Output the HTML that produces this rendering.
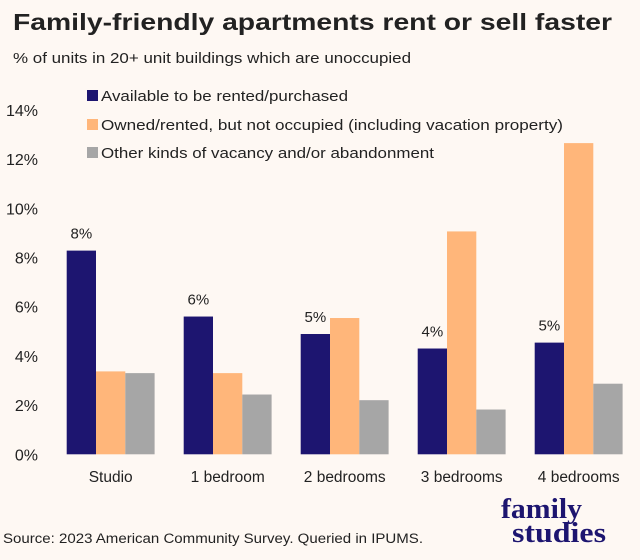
<!DOCTYPE html>
<html><head><meta charset="utf-8"><style>
html,body{margin:0;padding:0;background:#fef8f3;}
svg{display:block;font-family:"Liberation Sans",sans-serif;}
</style></head><body>
<svg width="640" height="560" viewBox="0 0 640 560">
<rect width="640" height="560" fill="#fef8f3"/>
<text x="13" y="30" font-size="23" font-weight="bold" fill="#222" textLength="599" lengthAdjust="spacingAndGlyphs">Family-friendly apartments rent or sell faster</text>
<text x="13" y="63" font-size="15" fill="#222" textLength="398" lengthAdjust="spacingAndGlyphs">% of units in 20+ unit buildings which are unoccupied</text>
<g id="yaxis"></g>
<g id="bars"></g>
<g id="xaxis"></g>
<g>
<rect x="87" y="90" width="11" height="11" fill="#1d1570"/>
<text x="101" y="101" font-size="15" fill="#222" textLength="247" lengthAdjust="spacingAndGlyphs">Available to be rented/purchased</text>
<rect x="87" y="119" width="11" height="11" fill="#ffb67a"/>
<text x="101" y="130" font-size="15" fill="#222" textLength="462" lengthAdjust="spacingAndGlyphs">Owned/rented, but not occupied (including vacation property)</text>
<rect x="87" y="147" width="11" height="11" fill="#a6a6a6"/>
<text x="101" y="158" font-size="15" fill="#222" textLength="333" lengthAdjust="spacingAndGlyphs">Other kinds of vacancy and/or abandonment</text>
</g>
<text x="3" y="543" font-size="13.5" fill="#222" textLength="420" lengthAdjust="spacingAndGlyphs">Source: 2023 American Community Survey. Queried in IPUMS.</text>
<g font-family="'Liberation Serif',serif" font-weight="bold" fill="#1d1570">
<text x="501" y="518" font-size="28" textLength="81" lengthAdjust="spacingAndGlyphs">family</text>
<text x="512" y="542" font-size="28" textLength="94" lengthAdjust="spacingAndGlyphs">studies</text>
</g>
</svg>
<script>
const categories = ["Studio","1 bedroom","2 bedrooms","3 bedrooms","4 bedrooms"];
const availableValues = [8.28, 5.6, 4.89, 4.3, 4.54];
const ownedValues = [3.37, 3.3, 5.54, 9.06, 12.65];
const otherValues = [3.3, 2.43, 2.2, 1.82, 2.87];
const barLabels = ["8%","6%","5%","4%","5%"];
const yTicks = [0,2,4,6,8,10,12,14];

const NS="http://www.w3.org/2000/svg";
const y0=454.3, pxPer=24.6;
function yScale(v){return y0 - v*pxPer;}
function groupX(i){return 66.7 + i*117;}
const bw=29.3;
function mk(tag,attrs,parent){const e=document.createElementNS(NS,tag);for(const k in attrs)e.setAttribute(k,attrs[k]);parent.appendChild(e);return e;}
const yg=document.getElementById('yaxis');
yTicks.forEach(t=>{
  const el=mk('text',{x:38,y:yScale(t)+6,'font-size':16,'text-anchor':'end',fill:'#222'},yg);
  el.textContent=t+'%';
  
  
});
const bg=document.getElementById('bars');
const series=[[availableValues,'#1d1570','available'],[ownedValues,'#ffb67a','owned'],[otherValues,'#a6a6a6','other']];
categories.forEach((c,i)=>{
  series.forEach((s,j)=>{
    const v=s[0][i];
    const r=mk('rect',{x:groupX(i)+j*bw,y:yScale(v),width:bw,height:v*pxPer,fill:s[1]},bg);
    
    
  });
  const l=mk('text',{x:groupX(i)+bw/2,y:yScale(availableValues[i])-12,'font-size':15,'text-anchor':'middle',fill:'#222'},bg);
  l.textContent=barLabels[i];
  
  
  const xl=mk('text',{x:groupX(i)+44,y:482,'font-size':15.5,'text-anchor':'middle',fill:'#222'},document.getElementById('xaxis'));
  xl.textContent=c;
  
  
});
</script>
</body></html>
